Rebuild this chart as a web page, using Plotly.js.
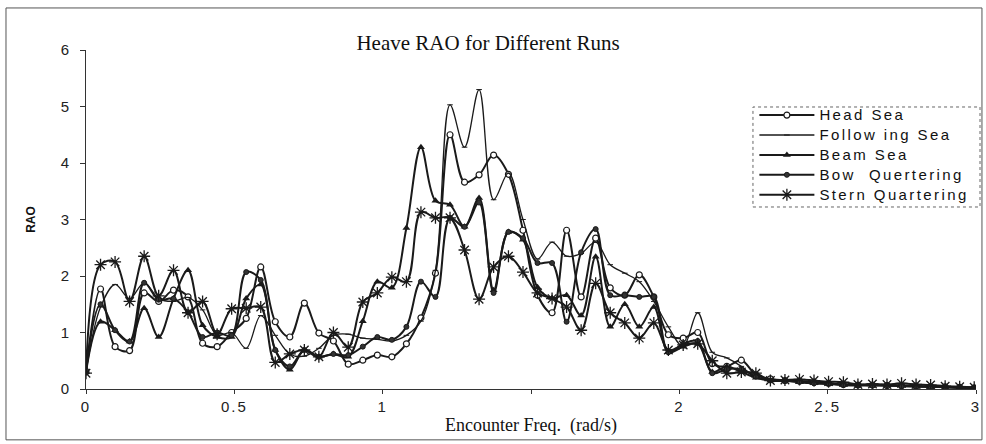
<!DOCTYPE html>
<html>
<head>
<meta charset="utf-8">
<script src="https://cdn.plot.ly/plotly-3.0.1.min.js"></script>
<style>
  html, body { margin: 0; padding: 0; background: #fff; }
  .xtick text, .ytick text { letter-spacing: 2px; }
</style>
</head>
<body>
<div id="chart" style="width:986px;height:444px;"></div>
<script>
// Encounter frequency grid (rad/s)
const freq = [0, 0.049, 0.098, 0.147, 0.196, 0.245, 0.295, 0.344, 0.393, 0.442,
  0.491, 0.540, 0.589, 0.638, 0.687, 0.736, 0.785, 0.834, 0.884, 0.933,
  0.982, 1.031, 1.080, 1.129, 1.178, 1.227, 1.276, 1.325, 1.374, 1.424,
  1.473, 1.522, 1.571, 1.620, 1.669, 1.718, 1.767, 1.816, 1.865, 1.914,
  1.963, 2.013, 2.062, 2.111, 2.160, 2.209, 2.258, 2.307, 2.356, 2.405,
  2.454, 2.503, 2.553, 2.602, 2.651, 2.700, 2.749, 2.798, 2.847, 2.896,
  2.945, 2.994];

const headSea = [0.3, 1.77, 0.75, 0.68, 1.7, 1.55, 1.75, 1.63, 0.81, 0.75,
  1.0, 1.25, 2.16, 1.19, 0.92, 1.52, 0.99, 0.85, 0.44, 0.51,
  0.6, 0.57, 0.8, 1.26, 2.05, 4.5, 3.66, 3.79, 4.14, 3.8,
  2.81, 1.66, 1.35, 2.81, 1.63, 2.67, 1.79, 1.66, 2.02, 1.63,
  0.96, 0.9, 1.0, 0.45, 0.4, 0.51, 0.25, 0.18, 0.15, 0.14,
  0.12, 0.1, 0.08, 0.07, 0.07, 0.06, 0.06, 0.05, 0.04, 0.04,
  0.03, 0.02];

const followingSea = [0.3, 1.45, 1.85, 1.6, 1.88, 1.6, 1.55, 1.62, 1.4, 0.95,
  1.0, 0.72, 1.3, 0.95, 0.62, 0.58, 0.72, 0.95, 0.97, 0.9,
  0.88, 0.85, 0.95, 1.2, 2.1, 5.03, 4.28, 5.3, 3.35, 3.82,
  3.0, 2.3, 2.6, 2.35, 2.4, 2.6, 2.2, 2.05, 1.9, 1.55,
  1.1, 0.75, 1.35, 0.65, 0.55, 0.4, 0.2, 0.17, 0.15, 0.13,
  0.12, 0.1, 0.08, 0.07, 0.06, 0.06, 0.05, 0.05, 0.04, 0.03,
  0.03, 0.02];

const beamSea = [0.3, 1.19, 1.04, 0.84, 1.43, 0.92, 1.6, 2.1, 1.13, 0.92,
  0.92, 1.6, 1.85, 0.69, 0.34, 0.69, 0.57, 0.62, 0.57, 1.2,
  1.9, 1.79, 2.85, 4.28, 3.33, 3.26, 2.87, 3.38, 1.75, 2.78,
  2.64, 1.8, 1.61, 1.66, 1.3, 2.34, 1.1, 1.5, 1.1, 1.45,
  0.65, 0.75, 0.8, 0.3, 0.4, 0.3, 0.2, 0.15, 0.15, 0.12,
  0.1, 0.09, 0.07, 0.06, 0.07, 0.06, 0.06, 0.05, 0.04, 0.03,
  0.02, 0.02];

const bowQuartering = [0.33, 1.5, 1.04, 0.84, 1.88, 1.58, 1.6, 1.36, 0.92, 1.0,
  0.95, 2.07, 1.93, 0.69, 0.4, 0.69, 0.57, 0.62, 0.6, 0.75,
  0.92, 0.87, 1.1, 1.9, 1.63, 3.03, 2.87, 3.3, 1.7, 2.78,
  2.67, 2.23, 2.23, 1.19, 2.42, 2.83, 1.66, 1.66, 1.63, 1.63,
  0.65, 0.8, 0.85, 0.28, 0.35, 0.35, 0.22, 0.15, 0.14, 0.13,
  0.1, 0.1, 0.07, 0.07, 0.06, 0.07, 0.05, 0.04, 0.04, 0.03,
  0.02, 0.02];

const sternQuartering = [0.28, 2.2, 2.25, 1.55, 2.35, 1.65, 2.1, 1.35, 1.55, 0.97,
  1.42, 1.43, 1.45, 0.47, 0.62, 0.69, 0.57, 1.0, 0.74, 1.54,
  1.7, 1.98, 1.9, 3.13, 3.03, 3.03, 2.46, 1.59, 2.16, 2.35,
  2.07, 1.7, 1.6, 1.45, 1.04, 1.87, 1.35, 1.17, 0.9, 1.17,
  0.69, 0.78, 0.8, 0.5, 0.28, 0.3, 0.28, 0.15, 0.16, 0.17,
  0.15, 0.13, 0.12, 0.08, 0.09, 0.08, 0.1, 0.08, 0.07, 0.05,
  0.04, 0.03];

const seriesNames = ["Head Sea", "Follow ing Sea", "Beam Sea", "Bow\u00a0 Quertering", "Stern Quartering"];
const xTickVals = [0, 0.5, 1, 1.5, 2, 2.5, 3];
const xTickText = ["0", "0.5", "1", "", "2", "2.5", "3"];

const ink = "#1a1a1a";
const lineShape = {shape: "spline", smoothing: 1};

const traces = [
  {x: freq, y: headSea, name: seriesNames[0], mode: "lines+markers",
   line: Object.assign({color: ink, width: 2}, lineShape),
   marker: {symbol: "circle", size: 6, color: "#ffffff", line: {color: ink, width: 1.2}}},
  {x: freq, y: followingSea, name: seriesNames[1], mode: "lines+markers",
   line: Object.assign({color: ink, width: 1.3}, lineShape),
   marker: {symbol: "line-ew", size: 4, color: ink, line: {color: ink, width: 1}}},
  {x: freq, y: beamSea, name: seriesNames[2], mode: "lines+markers",
   line: Object.assign({color: ink, width: 2}, lineShape),
   marker: {symbol: "triangle-up", size: 7, color: ink}},
  {x: freq, y: bowQuartering, name: seriesNames[3], mode: "lines+markers",
   line: Object.assign({color: ink, width: 2}, lineShape),
   marker: {symbol: "circle", size: 5, color: "#333", line: {color: ink, width: 1}}},
  {x: freq, y: sternQuartering, name: seriesNames[4], mode: "lines+markers",
   line: Object.assign({color: ink, width: 2}, lineShape),
   marker: {symbol: "asterisk-open", size: 10, color: ink, line: {color: ink, width: 1.3}}}
];

const layout = {
  width: 986, height: 444, autosize: false,
  margin: {l: 86, r: 10, t: 50, b: 55, pad: 0},
  paper_bgcolor: "#ffffff", plot_bgcolor: "#ffffff",
  showlegend: true,
  title: {text: "Heave RAO for Different Runs", x: 0.495, xanchor: "center",
          y: 0.905, yref: "container", yanchor: "middle",
          font: {family: "Liberation Serif, Times New Roman, serif", size: 21, color: "#111"}},
  xaxis: {range: [0, 3], showgrid: false, zeroline: false, showline: true,
          linecolor: "#333", linewidth: 1, ticks: "outside", ticklen: 4, tickcolor: "#333",
          tickvals: xTickVals, ticktext: xTickText,
          tickfont: {family: "Liberation Sans, Arial, sans-serif", size: 15, color: "#222"},
          title: {text: "Encounter Freq.\u00a0 (rad/s)", standoff: 4,
                  font: {family: "Liberation Serif, Times New Roman, serif", size: 18, color: "#111"}}},
  yaxis: {range: [0, 6], dtick: 1, showgrid: false, zeroline: false, showline: true,
          linecolor: "#333", linewidth: 1, ticks: "outside", ticklen: 5, tickcolor: "#333",
          ticklabelstandoff: 6,
          tickfont: {family: "Liberation Sans, Arial, sans-serif", size: 15, color: "#222"},
          title: {text: "<b>RAO</b>", standoff: 22,
                  font: {family: "Liberation Sans, Arial, sans-serif", size: 12, color: "#111"}}},
  legend: {x: 0.751, y: 0.852, xanchor: "left", yanchor: "top", itemwidth: 55,
           bgcolor: "rgba(0,0,0,0)", borderwidth: 0, tracegroupgap: 0,
           font: {family: "Liberation Sans, Arial, sans-serif", size: 13, color: "#111"}},
  shapes: [
    {type: "rect", xref: "paper", yref: "paper", x0: 0.7494, x1: 1.0045, y0: 0.5369, y1: 0.8319,
     line: {color: "#666", width: 1, dash: "dot"}},
    {type: "rect", xref: "paper", yref: "paper", x0: -0.0899, x1: 1.0067, y0: -0.150, y1: 1.124,
     line: {color: "#555", width: 1}}
  ]
};

Plotly.newPlot("chart", traces, layout, {staticPlot: true, displayModeBar: false}).then(function () {
  // widen legend lettering after layout so the plot area is not pushed
  document.querySelectorAll("#chart .legend [clip-path]").forEach(function (g) {
    g.removeAttribute("clip-path");
  });
  document.querySelectorAll("#chart .legendtext").forEach(function (t) {
    t.style.letterSpacing = "2.4px";
    t.style.fontSize = "15px";
  });
});
</script>
</body>
</html>
